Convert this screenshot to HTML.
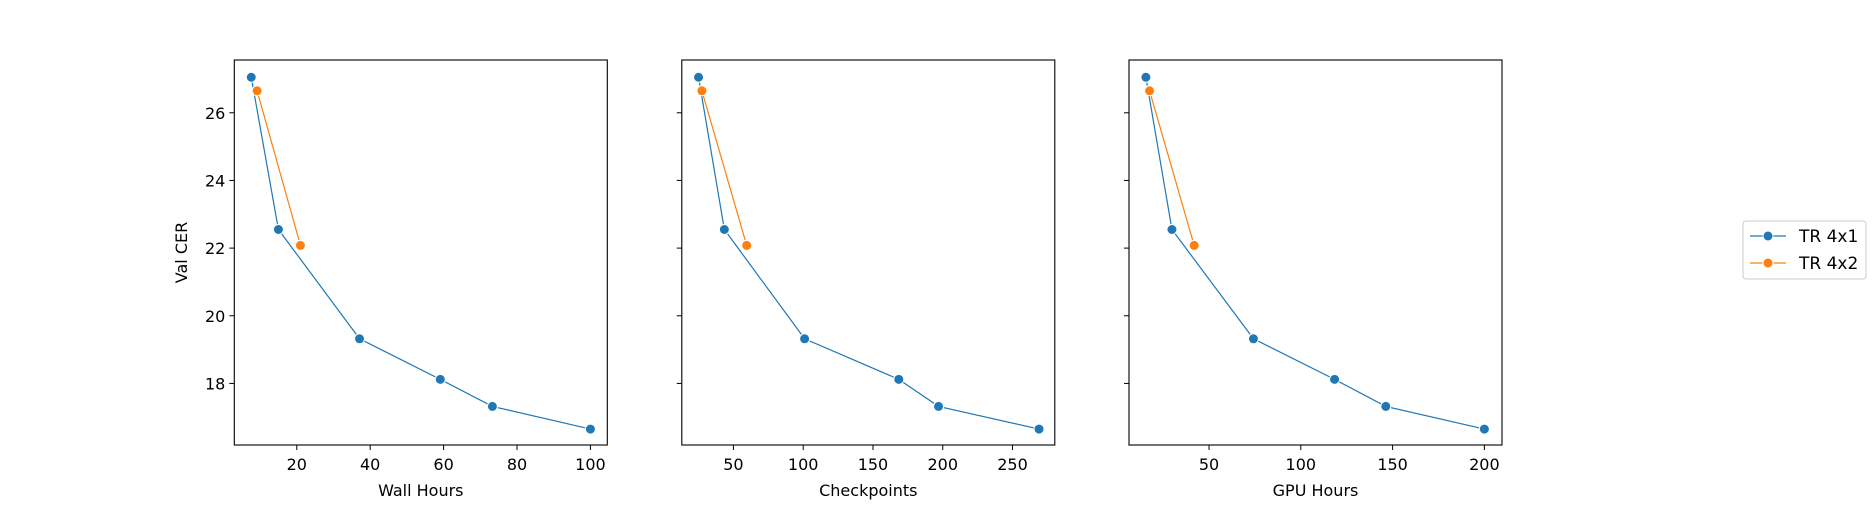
<!DOCTYPE html>
<html><head><meta charset="utf-8"><style>
html,body{margin:0;padding:0;background:#fff;}
svg text{font-family:"DejaVu Sans","Liberation Sans",sans-serif;fill:#000;}
</style></head><body>
<svg id="chart" width="1875" height="500" viewBox="0 0 1875 500" xmlns="http://www.w3.org/2000/svg">
<g id="plots"></g>
<g>
<rect x="1743" y="221" width="123" height="58" rx="3" fill="#fff" stroke="#ccc" stroke-width="1"/>
<g>
<line x1="1750" y1="236" x2="1786" y2="236" stroke="#1f77b4" stroke-width="1.2"/>
<circle cx="1768" cy="236" r="5" fill="#1f77b4" stroke="#fff" stroke-width="1"/>
<text x="1799" y="242" font-size="17">TR 4x1</text>
</g>
<g>
<line x1="1750" y1="263" x2="1786" y2="263" stroke="#ff7f0e" stroke-width="1.2"/>
<circle cx="1768" cy="263" r="5" fill="#ff7f0e" stroke="#fff" stroke-width="1"/>
<text x="1799" y="269" font-size="17">TR 4x2</text>
</g>
</g>
</svg>
<script>
const panelTitles = ["Wall Hours", "Checkpoints", "GPU Hours"];
const blueWall = [7.6, 15.0, 37.1, 59.1, 73.3, 100];
const blueCkpt = [25, 43.5, 101, 168.5, 197, 269];
const blueGpu = [15.6, 29.8, 74.2, 118.4, 146.3, 200];
const blueCER = [27.05, 22.55, 19.32, 18.12, 17.32, 16.65];
const orangeWall = [9.2, 21.0];
const orangeCkpt = [27.4, 59.5];
const orangeGpu = [17.6, 41.9];
const orangeCER = [26.65, 22.08];
const xTicks1 = [20, 40, 60, 80, 100];
const xTicks2 = [50, 100, 150, 200, 250];
const xTicks3 = [50, 100, 150, 200];
const yTicks = [18, 20, 22, 24, 26];

const NS = "http://www.w3.org/2000/svg";
const plotsG = document.getElementById('plots');
function mk(tag, attrs, parent){const e=document.createElementNS(NS,tag);for(const k in attrs)e.setAttribute(k,attrs[k]);(parent||plotsG).appendChild(e);return e;}
const plotTop=60, plotBot=445, W=373;
const yMin=16.18, yMax=27.56;
function yS(v){return plotBot-(v-yMin)/(yMax-yMin)*(plotBot-plotTop);}
const panels=[
 {left:234.3, xmin:2.98, xmax:104.6, bx:blueWall, ox:orangeWall, ticks:xTicks1},
 {left:681.8, xmin:13, xmax:280.3, bx:blueCkpt, ox:orangeCkpt, ticks:xTicks2},
 {left:1129, xmin:6.4, xmax:209.6, bx:blueGpu, ox:orangeGpu, ticks:xTicks3}
];
panels.forEach((p,i)=>{
 const pg=mk('g',{});
 
 
 const xS=v=>p.left+(v-p.xmin)/(p.xmax-p.xmin)*W;
 function series(xs,ys,color,name){
  const sg=mk('g',{},pg);
  
  
  const pts=xs.map((x,j)=>xS(x).toFixed(2)+','+yS(ys[j]).toFixed(2)).join(' ');
  const pl=mk('polyline',{points:pts,fill:'none',stroke:color,'stroke-width':1.2},sg);
  
  
  xs.forEach((x,j)=>{
   const c=mk('circle',{cx:xS(x),cy:yS(ys[j]),r:5,fill:color,stroke:'#fff','stroke-width':1},sg);
   
   
  });
 }
 series(p.bx,blueCER,'#1f77b4','series-tr-4x1');
 series(p.ox,orangeCER,'#ff7f0e','series-tr-4x2');
 const fr=mk('rect',{x:p.left,y:plotTop,width:W,height:plotBot-plotTop,fill:'none',stroke:'#000','stroke-width':1.1},pg);
 
 
 p.ticks.forEach(t=>{
  const x=xS(t);
  const l=mk('line',{x1:x,y1:plotBot,x2:x,y2:plotBot+5,stroke:'#000','stroke-width':1},pg);
  
  
  const tx=mk('text',{x:x,y:470,'font-size':16,'text-anchor':'middle'},pg);
  
  
  tx.textContent=t;
 });
 yTicks.forEach(t=>{
  const y=yS(t);
  const l=mk('line',{x1:p.left-5,y1:y,x2:p.left,y2:y,stroke:'#000','stroke-width':1},pg);
  
  
  if(i===0){
   const tx=mk('text',{x:p.left-9,y:y+6,'font-size':16,'text-anchor':'end'},pg);
   
   
   tx.textContent=t;
  }
 });
 const xt=mk('text',{x:p.left+W/2,y:496,'font-size':16,'text-anchor':'middle'},pg);
 
 
 xt.textContent=panelTitles[i];
 if(i===0){
  const yt=mk('text',{x:0,y:0,'font-size':16,'text-anchor':'middle',transform:'translate(187,'+((plotTop+plotBot)/2)+') rotate(-90)'},pg);
  
  
  yt.textContent='Val CER';
 }
});
</script>
</body></html>
